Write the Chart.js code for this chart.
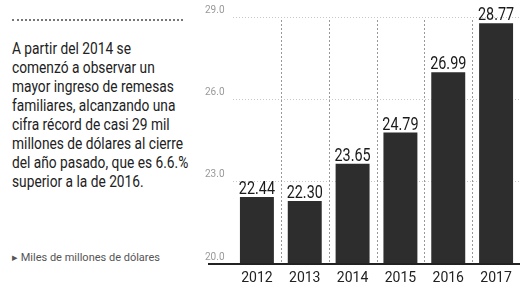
<!DOCTYPE html>
<html>
<head>
<meta charset="utf-8">
<script src="https://cdn.jsdelivr.net/npm/chart.js@4"></script>
<style>
  html, body { margin: 0; padding: 0; background: #fff; }
  body { width: 523px; height: 288px; position: relative; overflow: hidden; font-family: Roboto, sans-serif; }
  #rule { position: absolute; left: 12px; top: 19px; width: 171px; border-top: 2px dotted #777; }
  #note { position: absolute; left: 12px; top: 39px; font-size: 17px; line-height: 19px;
          color: #222; white-space: nowrap; transform-origin: 0 0; }
  #unit { position: absolute; left: 12px; top: 251px; font-size: 11px; color: #555; white-space: nowrap; }
  #wrap { position: absolute; left: 200px; top: 0; width: 323px; height: 288px; }
</style>
</head>
<body>
<div id="rule"></div>
<div id="note">A partir del 2014 se<br>comenzó a observar un<br>mayor ingreso de remesas<br>familiares, alcanzando una<br>cifra récord de casi 29 mil<br><span id="longest">millones de dólares al cierre</span><br>del año pasado, que es 6.6.%<br>superior a la de 2016.</div>
<div id="unit">▸ Miles de millones de dólares</div>
<div id="wrap"><canvas id="myChart" width="323" height="288"></canvas></div>
<script>
const years = ['2012', '2013', '2014', '2015', '2016', '2017'];
const remesas = [22.44, 22.30, 23.65, 24.79, 26.99, 28.77];
const yTicks = [20, 23, 26, 29];

const FONT = 'Roboto, sans-serif';

// squeeze the paragraph so the longest line is ~171px, like the condensed print font
const longest = document.getElementById('longest');
const note = document.getElementById('note');
note.style.transform = 'scaleX(' + (171 / longest.getBoundingClientRect().width) + ')';

// dotted separators between the years
const separators = {
  id: 'separators',
  beforeDatasetsDraw(chart) {
    const c = chart.ctx;
    const x = chart.scales.x;
    const area = chart.chartArea;
    c.save();
    c.strokeStyle = '#999';
    c.lineWidth = 1;
    c.setLineDash([2, 2]);
    for (let i = 1; i < years.length; i++) {
      const px = Math.round((x.getPixelForValue(i - 1) + x.getPixelForValue(i)) / 2) + 0.5;
      c.beginPath();
      c.moveTo(px, area.top + 3);
      c.lineTo(px, area.bottom);
      c.stroke();
    }
    c.restore();
  }
};

// value labels above bars + solid baseline under the axis labels
const extras = {
  id: 'extras',
  afterDatasetsDraw(chart) {
    const c = chart.ctx;
    const meta = chart.getDatasetMeta(0);
    c.save();
    c.font = '18px ' + FONT;
    c.fillStyle = '#1a1a1a';
    c.textAlign = 'center';
    c.textBaseline = 'alphabetic';
    meta.data.forEach((bar, i) => {
      c.save();
      c.translate(bar.x, bar.y - 3);
      c.scale(0.8, 1);
      c.fillText(remesas[i].toFixed(2), 0, 0);
      c.restore();
    });
    const y0 = chart.scales.y.getPixelForValue(20);
    c.strokeStyle = '#222';
    c.lineWidth = 2;
    c.beginPath();
    c.moveTo(8, y0);
    c.lineTo(chart.chartArea.right, y0);
    c.stroke();
    c.restore();
  }
};

const ctx = document.getElementById('myChart').getContext('2d');
const chart = new Chart(ctx, {
  type: 'bar',
  data: {
    labels: years,
    datasets: [{
      data: remesas,
      backgroundColor: '#2d2d2d',
      barPercentage: 0.71,
      categoryPercentage: 1
    }]
  },
  options: {
    responsive: false,
    animation: false,
    layout: { padding: { top: 17, left: 5, right: 3, bottom: 0 } },
    plugins: { legend: { display: false }, tooltip: { enabled: false } },
    scales: {
      x: {
        grid: { display: false, drawTicks: false },
        border: { display: false },
        ticks: { color: '#222', font: { family: FONT, size: 14 }, padding: 6 },
        afterFit(scale) { scale.height = 24; }
      },
      y: {
        min: 20,
        max: 29,
        afterBuildTicks(scale) { scale.ticks = yTicks.map(v => ({ value: v })); },
        grid: { drawTicks: false, color: '#c8c8c8' },
        border: { display: false, dash: [1, 2] },
        ticks: {
          color: '#999',
          font: { family: FONT, size: 10 },
          crossAlign: 'far',
          labelOffset: -7,
          padding: 4,
          callback: (v) => Number(v).toFixed(1)
        },
        afterFit(scale) { scale.width = 28; }
      }
    }
  },
  plugins: [separators, extras]
});
</script>
</body>
</html>
